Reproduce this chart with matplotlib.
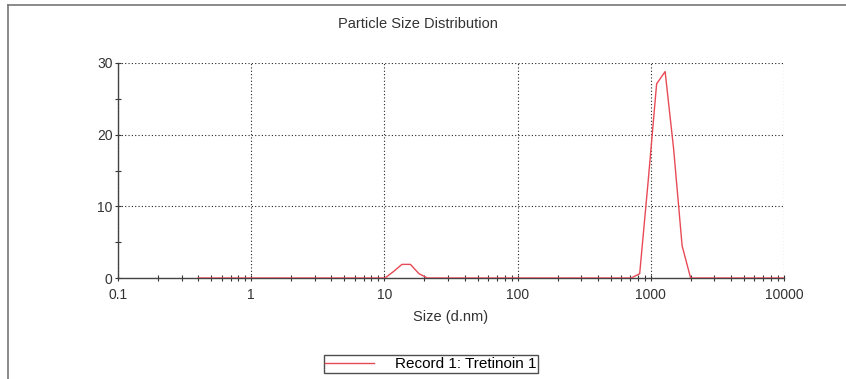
import matplotlib.pyplot as plt
from matplotlib.ticker import LogLocator, FixedLocator, FixedFormatter, MultipleLocator
from matplotlib.lines import Line2D

plt.rcParams['font.family'] = ['Liberation Sans', 'DejaVu Sans']

# size (d.nm) and intensity (%)
sizes = [0.4, 10.1, 11.7, 13.54, 15.69, 18.17, 21.04,
         712.4, 825.0, 955.4, 1106, 1281, 1484, 1718, 1990, 10000]
intensity = [0, 0, 0.9, 1.9, 1.9, 0.6, 0,
             0, 0.6, 13.5, 27.1, 28.8, 18.0, 4.5, 0, 0]

x_ticks = [0.1, 1, 10, 100, 1000, 10000]
x_labels = ['0.1', '1', '10', '100', '1000', '10000']
y_ticks = [0, 10, 20, 30]

fig = plt.figure(figsize=(8.46, 3.79), dpi=100)
ax = fig.add_axes([118 / 846, 1 - 278 / 379, (784 - 118) / 846, (278 - 63) / 379])

ax.plot(sizes, intensity, color='#e84a55', lw=1.0, label='Record 1: Tretinoin 1', zorder=5)

ax.set_xscale('log')
ax.set_xlim(0.1, 10000)
ax.set_ylim(0, 30)

ax.xaxis.set_major_locator(FixedLocator(x_ticks))
ax.xaxis.set_major_formatter(FixedFormatter(x_labels))
ax.xaxis.set_minor_locator(LogLocator(base=10, subs=range(2, 10), numticks=20))
ax.yaxis.set_major_locator(FixedLocator(y_ticks))
ax.yaxis.set_minor_locator(MultipleLocator(5))

ax.grid(True, which='major', color='#222222', linestyle=(0, (1, 2)), lw=0.8)

for s in ['top', 'right']:
    ax.spines[s].set_visible(False)
for s in ['left', 'bottom']:
    ax.spines[s].set_color('#444444')
    ax.spines[s].set_linewidth(1.0)

ax.tick_params(axis='both', which='major', labelsize=10, colors='#333333',
               length=4, width=0.8, pad=2, direction='inout')
ax.tick_params(axis='both', which='minor', length=4, width=0.8,
               colors='#333333', direction='inout')
ax.tick_params(axis='x', which='major', pad=5)

ax.set_xlabel('Size (d.nm)', fontsize=10.5, color='#333333', labelpad=6)
fig.text(418 / 846, 1 - 24 / 379, 'Particle Size Distribution',
         ha='center', va='center', fontsize=10.5, color='#333333')

fig.legend(loc='center', bbox_to_anchor=(431 / 846, 1 - 364 / 379),
           fontsize=11, frameon=True, fancybox=False, edgecolor='#222222',
           handlelength=3.2, borderpad=0.1, handletextpad=1.4, borderaxespad=0)

# outer frame of the screenshot
fig.add_artist(Line2D([8 / 846, 8 / 846], [0, 1 - 5 / 379], transform=fig.transFigure,
                      color='#777777', lw=1.2))
fig.add_artist(Line2D([8 / 846, 1], [1 - 5 / 379, 1 - 5 / 379], transform=fig.transFigure,
                      color='#777777', lw=1.2))

fig.savefig('out.png', dpi=100)
